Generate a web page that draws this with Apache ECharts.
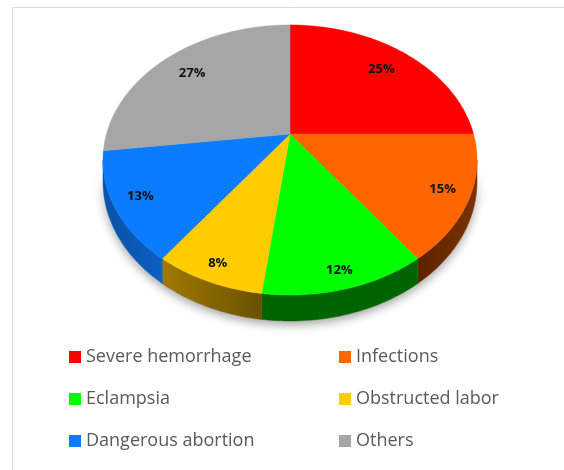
<!DOCTYPE html>
<html>
<head>
<meta charset="utf-8">
<script src="https://cdn.jsdelivr.net/npm/echarts@6/dist/echarts.min.js"></script>
<style>
html,body{margin:0;padding:0;background:#fff;}
#bingtu{width:564px;height:470px;}
</style>
</head>
<body>
<div id="bingtu"></div>
<script>
// 数据
var categories = ['Severe hemorrhage', 'Infections', 'Eclampsia', 'Obstructed labor', 'Dangerous abortion', 'Others'];
var shares = [25, 15, 12, 8, 13, 27];

// 颜色
var topColors = ['#ff0000', '#ff6600', '#00ff00', '#ffcc00', '#0a7cff', '#a6a6a6'];
var sideColors = [
  ['#8a0000', '#8a0000'],
  ['#5c2300', '#7a3300'],
  ['#006400', '#006400'],
  ['#a07a00', '#6a5100'],
  ['#0a52a6', '#0b5fc2'],
  ['#606060', '#606060']
];

// 透视参数
var cx = 290, cy = 134, ax = 183.5, by = 130, tilt = 0.1926, depth = 21;
var total = shares.reduce(function (a, b) { return a + b; }, 0);
var visFrom = Math.acos(-tilt), visTo = 2 * Math.PI - Math.acos(-tilt);

function project(phi, r, drop) {
  var u = r * Math.sin(phi), v = -r * Math.cos(phi);
  var w = 1 - tilt * v;
  return [cx + ax * u / w, cy + by * v / w + (drop ? depth / w : 0)];
}
function arc(a, b, drop) {
  var pts = [];
  var n = Math.max(2, Math.ceil((b - a) / (Math.PI / 180)));
  for (var i = 0; i <= n; i++) {
    pts.push(project(a + (b - a) * i / n, 1, drop));
  }
  return pts;
}
function sidePoints(a, b) {
  return arc(a, b, false).concat(arc(a, b, true).reverse());
}

function renderItem(params, api) {
  var idx = params.dataIndex;
  var before = 0;
  for (var i = 0; i < idx; i++) before += shares[i];
  var a = before / total * 2 * Math.PI;
  var b = (before + api.value(0)) / total * 2 * Math.PI;
  var children = [];

  if (idx === 0) {
    // 底部阴影
    children.push({
      type: 'polygon',
      z2: 0,
      shape: { points: sidePoints(visFrom, visTo) },
      style: { fill: '#fff', shadowBlur: 10, shadowOffsetY: 4, shadowColor: 'rgba(0,0,0,0.35)' }
    });
  }

  var sa = Math.max(a, visFrom), sb = Math.min(b, visTo);
  if (sb > sa) {
    children.push({
      type: 'polygon',
      z2: 2,
      shape: { points: sidePoints(sa, sb) },
      style: {
        fill: new echarts.graphic.LinearGradient(0, 0, 1, 0, [
          { offset: 0, color: sideColors[idx][0] },
          { offset: 1, color: sideColors[idx][1] }
        ]),
        stroke: sideColors[idx][1],
        lineWidth: 0.5
      }
    });
  }

  children.push({
    type: 'polygon',
    z2: 10,
    shape: { points: [project(0, 0, false)].concat(arc(a, b, false)) },
    style: { fill: topColors[idx], stroke: topColors[idx], lineWidth: 0.5 }
  });

  // 标签: 前面的往外一点
  var mid = (a + b) / 2;
  var lr = 0.83 - 0.073 * Math.cos(mid);
  var lp = project(mid, lr, false);
  children.push({
    type: 'text',
    z2: 20,
    x: lp[0],
    y: lp[1],
    style: {
      text: api.value(0) + '%',
      fill: '#111',
      font: 'bold 13px "Open Sans"',
      align: 'center',
      verticalAlign: 'middle'
    }
  });

  return { type: 'group', children: children };
}

var myChart = echarts.init(document.getElementById('bingtu'));
var option = {
  backgroundColor: '#fff',
  animation: false,
  graphic: [{
    type: 'rect',
    silent: true,
    shape: { x: 12.5, y: 7.5, width: 600, height: 500 },
    style: { fill: 'none', stroke: '#d9d9d9', lineWidth: 1 }
  }],
  legend: [
    {
      data: [categories[0], categories[2], categories[4]],
      orient: 'vertical',
      left: 69,
      top: 347,
      padding: 0,
      icon: 'rect',
      itemWidth: 12,
      itemHeight: 12,
      itemGap: 22,
      selectedMode: false,
      textStyle: { fontSize: 18, color: '#595959', fontFamily: 'Open Sans', lineHeight: 20 }
    },
    {
      data: [categories[1], categories[3], categories[5]],
      orient: 'vertical',
      left: 339,
      top: 347,
      padding: 0,
      icon: 'rect',
      itemWidth: 12,
      itemHeight: 12,
      itemGap: 22,
      selectedMode: false,
      textStyle: { fontSize: 18, color: '#595959', fontFamily: 'Open Sans', lineHeight: 20 }
    }
  ],
  series: [
    {
      // 只给图例用
      type: 'pie',
      radius: [0, 0],
      silent: true,
      label: { show: false },
      labelLine: { show: false },
      data: categories.map(function (c, i) {
        return { name: c, value: shares[i], itemStyle: { color: topColors[i] } };
      })
    },
    {
      type: 'custom',
      coordinateSystem: 'none',
      renderItem: renderItem,
      data: shares.map(function (s) { return [s]; })
    }
  ]
};
myChart.setOption(option);
</script>
</body>
</html>
